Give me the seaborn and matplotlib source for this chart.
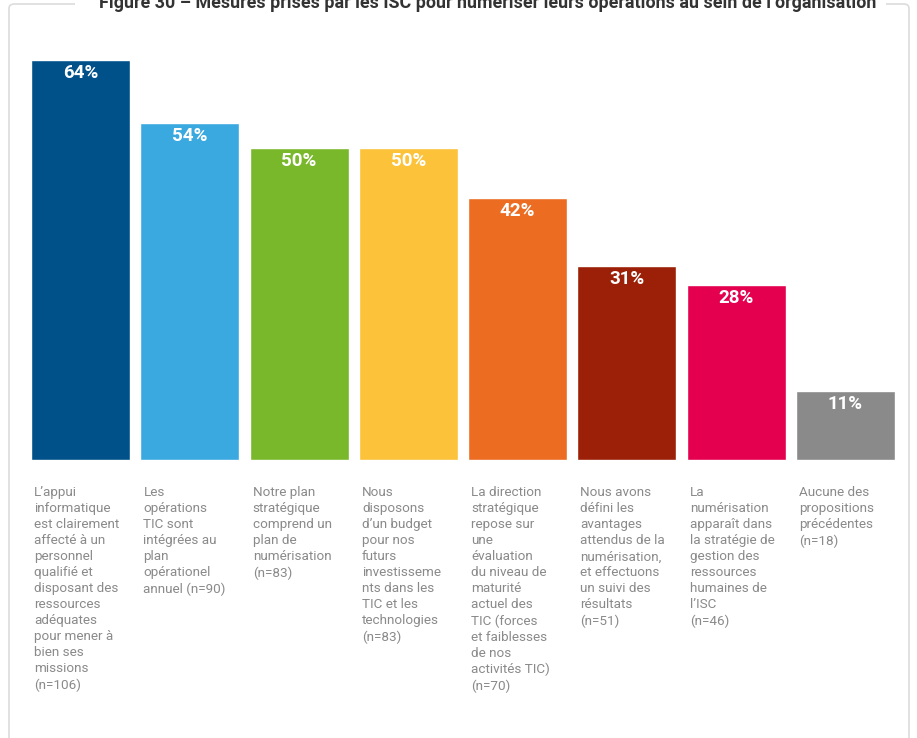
import matplotlib
matplotlib.use("Agg")
import matplotlib.pyplot as plt
from matplotlib.patches import FancyBboxPatch, Rectangle
import seaborn as sns
import pandas as pd

# Measures taken by SAIs to digitalise their operations (share of respondents, %)
categories = [
    "L\u2019appui\ninformatique\nest clairement\naffecté à un\npersonnel\nqualifié et\ndisposant des\nressources\nadéquates\npour mener à\nbien ses\nmissions\n(n=106)",
    "Les\nopérations\nTIC sont\nintégrées au\nplan\nopérationel\nannuel (n=90)",
    "Notre plan\nstratégique\ncomprend un\nplan de\nnumérisation\n(n=83)",
    "Nous\ndisposons\nd\u2019un budget\npour nos\nfuturs\ninvestisseme\nnts dans les\nTIC et les\ntechnologies\n(n=83)",
    "La direction\nstratégique\nrepose sur\nune\névaluation\ndu niveau de\nmaturité\nactuel des\nTIC (forces\net faiblesses\nde nos\nactivités TIC)\n(n=70)",
    "Nous avons\ndéfini les\navantages\nattendus de la\nnumérisation,\net effectuons\nun suivi des\nrésultats\n(n=51)",
    "La\nnumérisation\napparaît dans\nla stratégie de\ngestion des\nressources\nhumaines de\nl\u2019ISC\n(n=46)",
    "Aucune des\npropositions\nprécédentes\n(n=18)",
]
values = [64, 54, 50, 50, 42, 31, 28, 11]
colors = ["#005189", "#3aa9e0", "#78b82a", "#fbc23a",
          "#ec6c22", "#9b2007", "#e4004f", "#8a8a8a"]
title = "Figure 30 \u2013 Mesures prises par les ISC pour numériser leurs opérations au sein de l\u2019organisation"

df = pd.DataFrame({"cat": categories, "val": values})

sns.set_theme(style="white")
plt.rcParams["font.family"] = ["Roboto", "DejaVu Sans"]

W, H = 917, 738
fig = plt.figure(figsize=(W / 100, H / 100), dpi=100)
ax = fig.add_axes([26 / W, (H - 460) / H, (900 - 26) / W, 400 / H])

sns.barplot(data=df, x="cat", y="val", hue="cat", palette=colors,
            legend=False, width=0.907, saturation=1, ax=ax)
ax.set_ylim(0, 64)
ax.set_xlim(-0.5, len(values) - 0.5)
ax.set_xticks([])
ax.set_yticks([])
ax.set_xlabel("")
ax.set_ylabel("")
for s in ax.spines.values():
    s.set_visible(False)

# value labels inside the top of each bar
for i, v in enumerate(values):
    ax.annotate(f"{v}%", xy=(i, v), xytext=(0, -9.5), textcoords="offset points",
                ha="center", va="center", color="white",
                fontsize=13.5, fontweight="bold")

# wrapped category labels under the bars, left-aligned with each bar
for i, c in enumerate(categories):
    ax.annotate(c, xy=(i - 0.425, 0), xytext=(0, -19), textcoords="offset points",
                ha="left", va="top", color="#8a8a8a", fontsize=9.7,
                linespacing=1.3)

# light rounded frame around the figure
frame = FancyBboxPatch((9 / W, -30 / H), (909 - 9) / W, (H - 4 + 30) / H,
                       boxstyle="round,pad=0,rounding_size=0.006",
                       transform=fig.transFigure, fill=False,
                       edgecolor="#dcdcdc", linewidth=1.2, zorder=0)
fig.patches.append(frame)

# white gap in the frame's top edge behind the title
fig.patches.append(Rectangle((75 / W, 1 - 14 / H), (886 - 75) / W, 16 / H,
                             transform=fig.transFigure, facecolor="white",
                             edgecolor="none", zorder=1))

fig.text(488 / W, 1 - 8 / H, title, ha="center", va="baseline",
         fontsize=12.9, fontweight="bold", color="#333333", zorder=2)

fig.savefig("out.png", dpi=100)
